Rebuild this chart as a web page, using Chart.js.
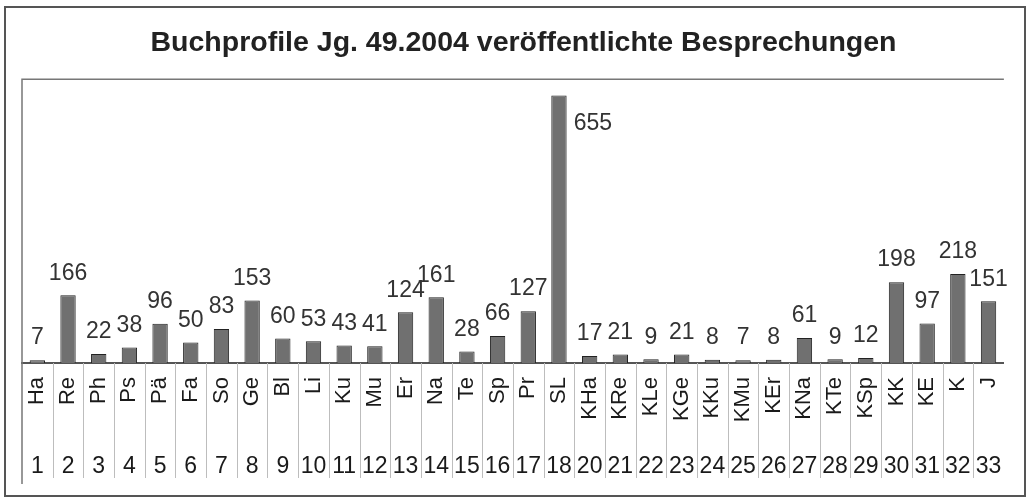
<!DOCTYPE html>
<html lang="de">
<head>
    <meta charset="UTF-8">
    <title>Buchprofile Jg. 49.2004</title>
    <script src="https://cdn.jsdelivr.net/npm/chart.js"></script>
    <style>
        body {
            margin: 0;
            padding: 0;
            background: #ffffff;
        }
        .wrap {
            position: relative;
            width: 1029px;
            height: 498px;
        }
    </style>
</head>
<body>
    <div class="wrap">
        <canvas id="reviewChart"></canvas>
    </div>
    <script>
        // Rubriken (Kürzel) und laufende Nummern
        const categories = ['Ha', 'Re', 'Ph', 'Ps', 'Pä', 'Fa', 'So', 'Ge', 'Bl', 'Li', 'Ku', 'Mu', 'Er', 'Na', 'Te', 'Sp', 'Pr', 'SL',
            'KHa', 'KRe', 'KLe', 'KGe', 'KKu', 'KMu', 'KEr', 'KNa', 'KTe', 'KSp', 'KK', 'KE', 'K', 'J'];
        const numbers = ['1', '2', '3', '4', '5', '6', '7', '8', '9', '10', '11', '12', '13', '14', '15', '16', '17', '18',
            '20', '21', '22', '23', '24', '25', '26', '27', '28', '29', '30', '31', '32', '33'];
        // veröffentlichte Besprechungen
        const reviews = [7, 166, 22, 38, 96, 50, 83, 153, 60, 53, 43, 41, 124, 161, 28, 66, 127, 655,
            17, 21, 9, 21, 8, 7, 8, 61, 9, 12, 198, 97, 218, 151];

        const FONT = "'Liberation Sans', Arial, sans-serif";

        // Rahmen, Trennlinien der Beschriftungstabelle
        const framePlugin = {
            id: 'frame',
            afterDraw(chart) {
                const ctx = chart.ctx;
                const area = chart.chartArea;
                const x = chart.scales.x;
                const x2 = chart.scales.x2;
                ctx.save();
                // Trennlinien zwischen den Rubriken
                ctx.strokeStyle = '#bdbdbd';
                ctx.lineWidth = 1;
                for (let i = 0; i < categories.length - 1; i++) {
                    const px = Math.round((x.getPixelForValue(i) + x.getPixelForValue(i + 1)) / 2) + 0.5;
                    ctx.beginPath();
                    ctx.moveTo(px, area.bottom);
                    ctx.lineTo(px, x2.bottom);
                    ctx.stroke();
                }
                // Innenrahmen
                ctx.strokeStyle = '#777';
                ctx.lineWidth = 1.5;
                ctx.beginPath();
                ctx.moveTo(area.left, x2.bottom + 6);
                ctx.lineTo(area.left, area.top);
                ctx.lineTo(area.right, area.top);
                ctx.stroke();
                // Außenrahmen
                ctx.strokeStyle = '#555';
                ctx.lineWidth = 2;
                ctx.strokeRect(5, 7, 1020, 489);
                ctx.restore();
            }
        };

        // Werte über den Säulen
        const valueLabels = {
            id: 'valueLabels',
            afterDatasetsDraw(chart) {
                const ctx = chart.ctx;
                const area = chart.chartArea;
                const meta = chart.getDatasetMeta(0);
                ctx.save();
                ctx.font = '23px ' + FONT;
                ctx.fillStyle = '#333';
                ctx.textBaseline = 'middle';
                meta.data.forEach((bar, i) => {
                    const txt = String(reviews[i]);
                    const cy = bar.y - 22;
                    if (cy - 12 < area.top) {
                        ctx.textAlign = 'left';
                        ctx.fillText(txt, bar.x + bar.width / 2 + 7, bar.y + 28);
                    } else {
                        ctx.textAlign = 'center';
                        ctx.fillText(txt, bar.x, cy);
                    }
                });
                ctx.restore();
            }
        };

        const ctx = document.getElementById('reviewChart').getContext('2d');
        new Chart(ctx, {
            type: 'bar',
            data: {
                labels: categories,
                datasets: [{
                    label: 'Besprechungen',
                    data: reviews,
                    backgroundColor: '#707070',
                    borderColor: '#222',
                    borderWidth: 1,
                    barPercentage: 0.5,
                    categoryPercentage: 1
                }]
            },
            options: {
                responsive: true,
                maintainAspectRatio: false,
                animation: false,
                layout: {
                    padding: { left: 22, right: 4, top: 0, bottom: 20 }
                },
                scales: {
                    y: {
                        display: false,
                        min: 0,
                        max: 695
                    },
                    x: {
                        position: 'bottom',
                        afterFit(scale) { scale.height = 80; },
                        grid: { drawOnChartArea: false, drawTicks: false },
                        border: { display: true, color: '#555', width: 2 },
                        ticks: {
                            autoSkip: false,
                            minRotation: 90,
                            maxRotation: 90,
                            padding: 14,
                            color: '#1a1a1a',
                            font: { family: FONT, size: 22 }
                        }
                    },
                    x2: {
                        type: 'category',
                        position: 'bottom',
                        labels: numbers,
                        offset: true,
                        afterFit(scale) { scale.height = 35; },
                        grid: { display: false },
                        border: { display: false },
                        ticks: {
                            autoSkip: false,
                            maxRotation: 0,
                            padding: 2,
                            color: '#1a1a1a',
                            font: { family: FONT, size: 23 }
                        }
                    }
                },
                plugins: {
                    legend: { display: false },
                    tooltip: { enabled: false },
                    title: {
                        display: true,
                        text: 'Buchprofile Jg. 49.2004 veröffentlichte Besprechungen',
                        color: '#222',
                        font: { family: FONT, size: 28.5, weight: 'bold' },
                        padding: { top: 26, bottom: 19 }
                    }
                }
            },
            plugins: [framePlugin, valueLabels]
        });
    </script>
</body>
</html>
